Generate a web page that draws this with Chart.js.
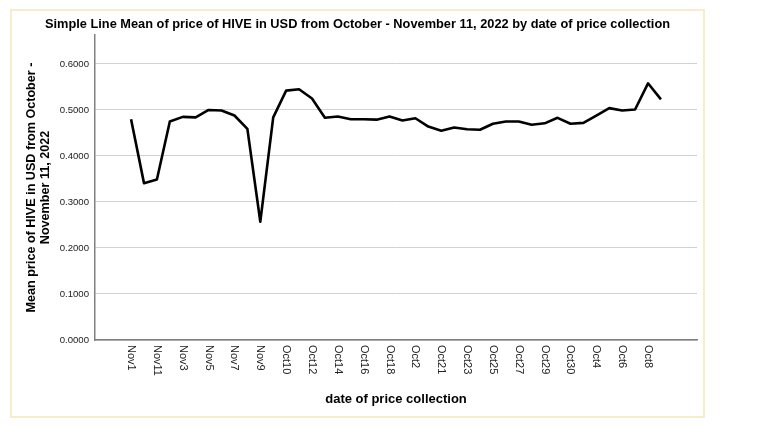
<!DOCTYPE html>
<html>
<head>
<meta charset="utf-8">
<script src="https://cdn.jsdelivr.net/npm/chart.js@4"></script>
<style>
  body { margin: 0; background: #fff; }
  canvas { display: block; }
</style>
</head>
<body>
<canvas id="chart" width="768" height="426"></canvas>
<script>
// categories in the order the stats package sorted them (as strings)
const dates = [
  "Nov1", "Nov10", "Nov11", "Nov2", "Nov3", "Nov4", "Nov5", "Nov6", "Nov7", "Nov8", "Nov9",
  "Oct1", "Oct10", "Oct11", "Oct12", "Oct13", "Oct14", "Oct15", "Oct16", "Oct17", "Oct18",
  "Oct19", "Oct2", "Oct20", "Oct21", "Oct22", "Oct23", "Oct24", "Oct25", "Oct26", "Oct27",
  "Oct28", "Oct29", "Oct3", "Oct30", "Oct31", "Oct4", "Oct5", "Oct6", "Oct7", "Oct8", "Oct9"
];
const prices = [
  0.480, 0.341, 0.349, 0.475, 0.485, 0.484, 0.500, 0.499, 0.488, 0.459, 0.257,
  0.484, 0.542, 0.545, 0.525, 0.483, 0.486, 0.480, 0.480, 0.479, 0.486,
  0.477, 0.482, 0.464, 0.455, 0.462, 0.458, 0.457, 0.470, 0.475, 0.475,
  0.468, 0.471, 0.483, 0.470, 0.472, 0.488, 0.504, 0.499, 0.501, 0.558, 0.523
];
const yTicks = [0, 0.1, 0.2, 0.3, 0.4, 0.5, 0.6];

const titleText = "Simple Line Mean of price of HIVE in USD from October - November 11, 2022 by date of price collection";
const xTitle = "date of price collection";
const yTitle = ["Mean price of HIVE in USD from October -", "November 11, 2022"];

const points = dates.map((d, i) => ({ x: i, y: prices[i] }));

// frame, titles and the downward-reading category labels
const decor = {
  id: "decor",
  beforeDraw(chart) {
    const ctx = chart.ctx;
    ctx.save();
    ctx.strokeStyle = "rgb(242,231,186)";
    ctx.lineWidth = 1.5;
    ctx.strokeRect(11, 10, 693, 407);
    ctx.restore();
  },
  afterDraw(chart) {
    const ctx = chart.ctx;
    const xs = chart.scales.x;
    const area = chart.chartArea;
    ctx.save();
    ctx.fillStyle = "#000";
    ctx.font = "bold 12.8px 'Liberation Sans', Arial, sans-serif";
    ctx.textAlign = "center";
    ctx.textBaseline = "middle";
    ctx.fillText(titleText, 357.5, 24);

    ctx.font = "bold 13px 'Liberation Sans', Arial, sans-serif";
    ctx.fillText(xTitle, (area.left + area.right) / 2, 399);

    ctx.save();
    ctx.translate(38.5, (area.top + area.bottom) / 2);
    ctx.rotate(-Math.PI / 2);
    ctx.font = "bold 12.6px 'Liberation Sans', Arial, sans-serif";
    ctx.fillText(yTitle[0], 0, -7);
    ctx.fillText(yTitle[1], 0, 7);
    ctx.restore();

    ctx.font = "11px 'Liberation Sans', Arial, sans-serif";
    ctx.fillStyle = "#222";
    ctx.textAlign = "left";
    dates.forEach((d, i) => {
      if (i % 2 !== 0) return;
      const px = xs.getPixelForValue(i);
      ctx.save();
      ctx.translate(px, area.bottom + 5);
      ctx.rotate(Math.PI / 2);
      ctx.fillText(d, 0, 0);
      ctx.restore();
    });
    ctx.restore();
  }
};

new Chart(document.getElementById("chart"), {
  type: "line",
  data: {
    datasets: [{
      data: points,
      borderColor: "#000",
      borderWidth: 2.6,
      borderJoinStyle: "round",
      pointRadius: 0,
      tension: 0,
      fill: false
    }]
  },
  options: {
    responsive: false,
    animation: false,
    layout: { padding: { left: 35, right: 71, top: 35, bottom: 6 } },
    plugins: {
      legend: { display: false },
      tooltip: { enabled: false }
    },
    scales: {
      x: {
        type: "linear",
        min: -2.79,
        max: 43.79,
        afterFit: s => { s.height = 80; },
        ticks: { display: false },
        grid: { display: false, drawTicks: false },
        border: { display: true, color: "#808080", width: 1.5 }
      },
      y: {
        min: 0,
        max: 0.663,
        afterFit: s => { s.width = 60; },
        afterBuildTicks: s => { s.ticks = yTicks.map(v => ({ value: v })); },
        ticks: {
          padding: 6,
          color: "#222",
          font: { family: "'Liberation Sans', Arial, sans-serif", size: 9.6 },
          callback: v => Number(v).toFixed(4)
        },
        grid: { color: "#d2d2d2", lineWidth: 1, drawTicks: false },
        border: { display: true, color: "#808080", width: 1.5 }
      }
    }
  },
  plugins: [decor]
});
</script>
</body>
</html>
